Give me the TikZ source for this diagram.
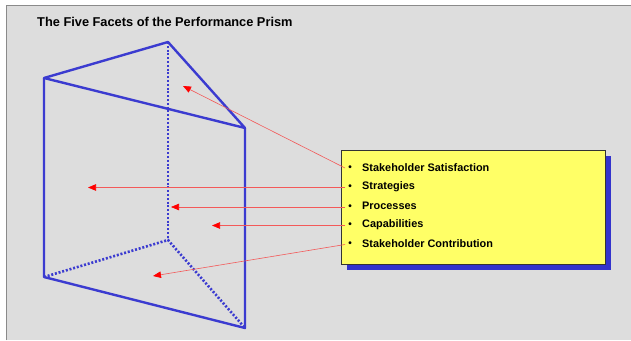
\documentclass[tikz,border=0pt]{standalone}
\usepackage{fontspec}
\setmainfont{Liberation Sans}
\usetikzlibrary{arrows.meta}
\definecolor{panel}{HTML}{DDDDDD}
\definecolor{frame}{HTML}{8A8A8A}
\definecolor{edge}{HTML}{3B3BD0}
\definecolor{boxfill}{HTML}{FFFF66}
\definecolor{shadowblue}{HTML}{3333CC}
\definecolor{pointer}{HTML}{F03030}
\tikzset{
  solidedge/.style={draw=edge, line width=2.4pt, line join=round},
  hiddenedge/.style={draw=edge, line width=2.6pt, dash pattern=on 2pt off 1.8pt},
  pointerline/.style={draw=pointer!80, line width=0.6pt,
    -{Triangle[length=8pt,width=6.5pt,fill=red,color=red]}},
  bulletmark/.style={inner sep=0pt, font=\fontsize{10}{11}\selectfont\bfseries},
  itemtext/.style={anchor=west, inner sep=0pt, font=\fontsize{10.9}{12}\selectfont\bfseries},
}
\begin{document}
\begin{tikzpicture}[x=1pt,y=-1pt]
  \useasboundingbox (0,0) rectangle (631,340);
  % slide background with its frame on the left and top
  \fill[white] (0,0) rectangle (631,340);
  \fill[panel] (6,5) rectangle (631,340);
  \draw[frame, line width=1.6pt] (6.5,340) -- (6.5,5.5) -- (631,5.5);

  % title
  \node[anchor=west, inner sep=0pt, font=\fontsize{12.8}{14}\selectfont\bfseries] (title) at (37,21.5) {The Five Facets of the Performance Prism};

  % prism corners
  \coordinate (A) at (44,78);
  \coordinate (B) at (168,42);
  \coordinate (C) at (245,128);
  \coordinate (D) at (44,277);
  \coordinate (E) at (168,240);
  \coordinate (F) at (245,328);

  % hidden edges
  \draw[hiddenedge] (B) -- (E);
  \draw[hiddenedge] (D) -- (E) -- (F);
  % visible edges
  \draw[solidedge] (A) -- (B) -- (C) -- cycle;
  \draw[solidedge] (A) -- (D) -- (F) -- (C);

  % legend box with drop shadow
  \fill[shadowblue] (347,156) rectangle (611,270);
  \node[draw=black!80, line width=0.7pt, fill=boxfill, anchor=north west,
        minimum width=264pt, minimum height=114pt, inner sep=0pt] (legend) at (341,150) {};

  % list entries
  \foreach \n/\yy/\txt in {1/168/Stakeholder Satisfaction, 2/187.5/Strategies, 3/207/Processes,
                            4/225.5/Capabilities, 5/244.5/Stakeholder Contribution} {
    \node[bulletmark] (b\n) at (350,\yy) {\textbullet};
    \node[itemtext] (t\n) at (362,\yy-0.8) {\txt};
  }

  % arrow targets on the prism faces
  \coordinate (p1) at (183,86);
  \coordinate (p2) at (88,188);
  \coordinate (p3) at (171,208);
  \coordinate (p4) at (212,225);
  \coordinate (p5) at (153,276);

  \draw[pointerline] ([xshift=-3pt]b1.west) -- (p1);
  \draw[pointerline] ([xshift=-3pt]b2.west) -- (p2 |- b2.west);
  \draw[pointerline] ([xshift=-3pt]b3.west) -- (p3 |- b3.west);
  \draw[pointerline] ([xshift=-3pt]b4.west) -- (p4 |- b4.west);
  \draw[pointerline] ([xshift=-3pt]b5.west) -- (p5);
\end{tikzpicture}
\end{document}
